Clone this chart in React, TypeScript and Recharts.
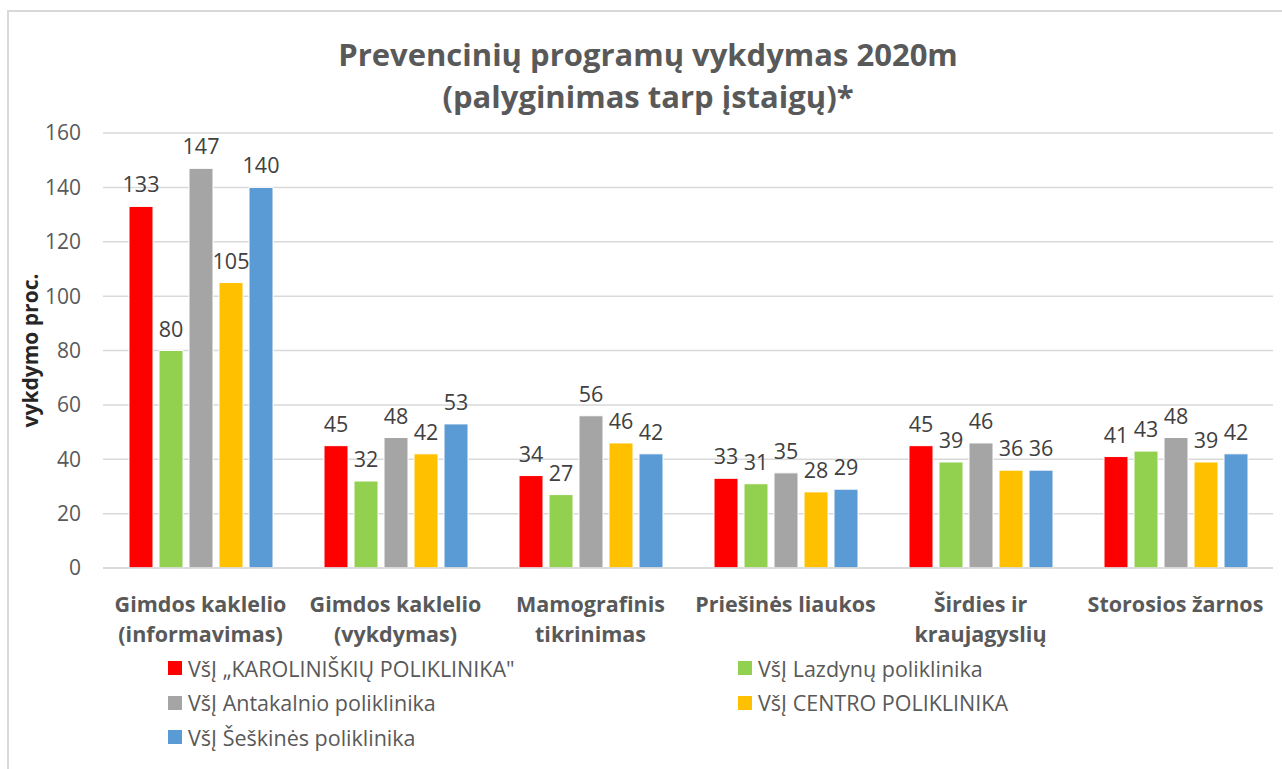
import { Bar, BarChart, CartesianGrid, LabelList, XAxis, YAxis } from "recharts";

const categories = [
  "Gimdos kaklelio\n(informavimas)",
  "Gimdos kaklelio\n(vykdymas)",
  "Mamografinis\ntikrinimas",
  "Priešinės liaukos",
  "Širdies ir\nkraujagyslių",
  "Storosios žarnos",
];
const karoliniskiu = [133, 45, 34, 33, 45, 41];
const lazdynu = [80, 32, 27, 31, 39, 43];
const antakalnio = [147, 48, 56, 35, 46, 48];
const centro = [105, 42, 46, 28, 36, 39];
const seskines = [140, 53, 42, 29, 36, 42];
const yTicks = [0, 20, 40, 60, 80, 100, 120, 140, 160];

const series = [
  { key: "karoliniskiu", name: "VšĮ „KAROLINIŠKIŲ POLIKLINIKA\"", color: "#ff0000", values: karoliniskiu },
  { key: "lazdynu", name: "VšĮ Lazdynų poliklinika", color: "#92d050", values: lazdynu },
  { key: "antakalnio", name: "VšĮ Antakalnio poliklinika", color: "#a5a5a5", values: antakalnio },
  { key: "centro", name: "VšĮ CENTRO POLIKLINIKA", color: "#ffc000", values: centro },
  { key: "seskines", name: "VšĮ Šeškinės poliklinika", color: "#5b9bd5", values: seskines },
];

const data = categories.map((c, i) => {
  const row: Record<string, string | number> = { category: c };
  series.forEach((s) => (row[s.key] = s.values[i]));
  return row;
});

const FONT = "'Open Sans', sans-serif";
const TEXT = "#595959";

function XTick({ x, y, payload }: any) {
  const lines = String(payload.value).split("\n");
  return (
    <text x={x} y={y + 36} textAnchor="middle" fill={TEXT} fontFamily={FONT} fontSize={21.5} fontWeight={700}>
      {lines.map((l, i) => (
        <tspan key={i} x={x} dy={i === 0 ? 0 : 30}>
          {l}
        </tspan>
      ))}
    </text>
  );
}

function YLabel({ viewBox }: any) {
  const cx = viewBox.x - 13;
  const cy = viewBox.y + viewBox.height / 2;
  return (
    <text
      x={cx}
      y={cy}
      transform={`rotate(-90, ${cx}, ${cy})`}
      textAnchor="middle"
      dominantBaseline="central"
      fill="#262626"
      fontFamily={FONT}
      fontSize={21}
      fontWeight={700}
    >
      vykdymo proc.
    </text>
  );
}

export default function App() {
  return (
    <div style={{ position: "absolute", left: 0, top: 0, width: 1282, height: 769, background: "#fff", overflow: "hidden", fontFamily: FONT }}>
      <div style={{ position: "absolute", left: 7, top: 10, width: 1290, height: 780, border: "2px solid #d9d9d9", boxSizing: "border-box" }} />
      <div
        style={{
          position: "absolute",
          left: 0,
          width: 1296,
          top: 33,
          textAlign: "center",
          color: TEXT,
          fontSize: 31,
          fontWeight: 700,
          lineHeight: "42px",
        }}
      >
        Prevencinių programų vykdymas 2020m
        <br />
        (palyginimas tarp įstaigų)*
      </div>
      <BarChart
        width={1282}
        height={769}
        data={data}
        margin={{ top: 133, right: 9, bottom: 171, left: 43 }}
        barSize={24}
        barGap={6}
        style={{ position: "absolute", left: 0, top: 0 }}
      >
        <CartesianGrid vertical={false} stroke="#d9d9d9" strokeWidth={1.5} />
        <XAxis
          dataKey="category"
          height={30}
          tickLine={false}
          axisLine={{ stroke: "#d9d9d9", strokeWidth: 1.5 }}
          tick={<XTick />}
          interval={0}
        />
        <YAxis
          width={60}
          domain={[0, 160]}
          ticks={yTicks}
          tickLine={false}
          axisLine={false}
          tickMargin={16}
          tick={{ fill: TEXT, fontSize: 21, fontFamily: FONT }}
          label={<YLabel />}
        />
        {series.map((s) => (
          <Bar key={s.key} dataKey={s.key} name={s.name} fill={s.color} stroke="#ffffff" strokeWidth={1} isAnimationActive={false}>
            <LabelList dataKey={s.key} position="top" offset={14} fill="#404040" fontSize={21.5} fontFamily={FONT} />
          </Bar>
        ))}
      </BarChart>
      {series.map((s, i) => (
        <div
          key={s.key}
          style={{
            position: "absolute",
            left: i % 2 === 0 ? 168 : 738,
            top: 668 + Math.floor(i / 2) * 34.5 - 15,
            height: 30,
            display: "flex",
            alignItems: "center",
            color: TEXT,
            fontSize: 21.5,
            whiteSpace: "nowrap",
          }}
        >
          <span style={{ display: "inline-block", width: 14, height: 14, background: s.color, marginRight: 6 }} />
          {s.name}
        </div>
      ))}
    </div>
  );
}
